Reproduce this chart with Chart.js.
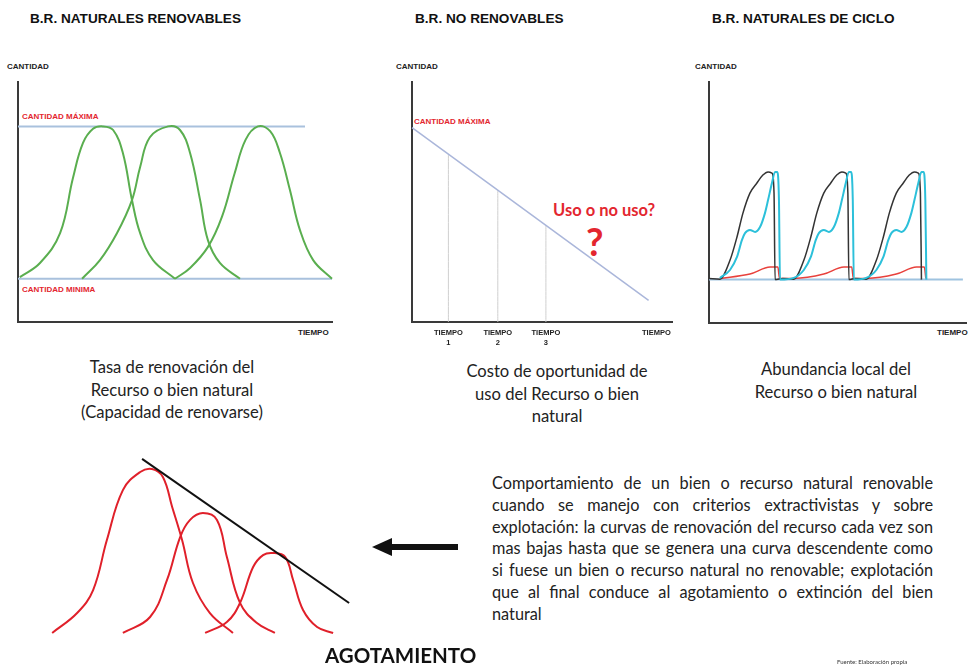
<!DOCTYPE html>
<html>
<head>
<meta charset="utf-8">
<script src="https://cdn.jsdelivr.net/npm/chart.js@4.4.1/dist/chart.umd.min.js"></script>
<style>
  body { margin: 0; background: #fff; }
  #page { position: relative; width: 968px; height: 667px; overflow: hidden; font-family: Lato, sans-serif; color: #222; }
  .box { position: absolute; }
  .t { position: absolute; white-space: nowrap; }
  .title { font: bold 13.6px "Liberation Sans", Arial, sans-serif; color: #111; line-height: 16px; }
  .tiny { font: bold 8px "Liberation Sans", Arial, sans-serif; color: #222; line-height: 10px; }
  .red { color: #e3262f; }
  .cap { font-size: 16.6px; text-align: center; line-height: 22.5px; color: #222; }
  .par { font-size: 14.5px; line-height: 21.8px; color: #222; }
  .par div { white-space: nowrap; text-align: justify; text-align-last: justify; width: 441px; }
  .par div.last { text-align-last: left; }
</style>
</head>
<body>
<div id="page">
  <!-- titulos -->
  <div class="t title" style="left:30px;top:11px">B.R. NATURALES RENOVABLES</div>
  <div class="t title" style="left:415px;top:11px">B.R. NO RENOVABLES</div>
  <div class="t title" style="left:712px;top:11px">B.R. NATURALES DE CICLO</div>

  <!-- etiquetas de ejes -->
  <div class="t tiny" style="left:7px;top:62px">CANTIDAD</div>
  <div class="t tiny" style="left:396px;top:62px">CANTIDAD</div>
  <div class="t tiny" style="left:695px;top:62px">CANTIDAD</div>
  <div class="t tiny" style="left:298px;top:328px">TIEMPO</div>
  <div class="t tiny" style="left:937px;top:328px">TIEMPO</div>
  <div class="t tiny red" style="left:22px;top:112px">CANTIDAD MÁXIMA</div>
  <div class="t tiny red" style="left:22px;top:285px">CANTIDAD MINIMA</div>
  <div class="t tiny red" style="left:414px;top:117px">CANTIDAD MÁXIMA</div>
  <div class="t red" style="left:553px;top:199px;font-weight:bold;font-size:16.5px;line-height:22px">Uso o no uso?</div>
  <div class="t red" style="left:586px;top:219px;font-weight:bold;font-size:38px;line-height:44px">?</div>

  <!-- graficos -->
  <div class="box" style="left:8px;top:72px;width:334px;height:260px"><canvas id="renovables"></canvas></div>
  <div class="box" style="left:402px;top:72px;width:280px;height:278px"><canvas id="noRenovables"></canvas></div>
  <div class="box" style="left:699px;top:72px;width:269px;height:261px"><canvas id="ciclo"></canvas></div>
  <div class="box" style="left:30px;top:440px;width:340px;height:210px"><canvas id="agotamiento"></canvas></div>

  <!-- textos -->
  <div class="t cap" style="left:22px;top:356px;width:300px">Tasa de renovación del<br>Recurso o bien natural<br>(Capacidad de renovarse)</div>
  <div class="t cap" style="left:407px;top:360px;width:300px">Costo de oportunidad de<br>uso del Recurso o bien<br>natural</div>
  <div class="t cap" style="left:686px;top:358px;width:300px">Abundancia local del<br>Recurso o bien natural</div>

  <div class="t par" id="parrafo" style="left:492px;top:472px">
    <div>Comportamiento de un bien o recurso natural renovable</div>
    <div>cuando se manejo con criterios extractivistas y sobre</div>
    <div id="lineaLarga">explotación: la curvas de renovación del recurso cada vez son</div>
    <div>mas bajas hasta que se genera una curva descendente como</div>
    <div>si fuese un bien o recurso natural no renovable; explotación</div>
    <div>que al final conduce al agotamiento o extinción del bien</div>
    <div class="last">natural</div>
  </div>

  <svg class="box" style="left:0;top:0" width="968" height="667">
    <polygon points="372,547 392,538 392,556" fill="#111"/>
    <rect x="390" y="544" width="68" height="6" fill="#111"/>
  </svg>

  <div class="t" style="left:325px;top:643px;font-weight:bold;font-size:20.5px;line-height:24px;color:#111">AGOTAMIENTO</div>
  <div class="t" style="left:837px;top:658px;font-size:6px;line-height:8px;color:#333">Fuente: Elaboración propia</div>
</div>

<script>
// ---------------- Datos ----------------
// B.R. naturales renovables: [tiempo, cantidad]
const renovCurva1 = [[0.6,18.7],[7,24.6],[13.4,37],[17.5,60],[20.7,74.6],[23.9,80.5],[27,81.5],[30.3,80],[33.4,70.4],[36.3,50.8],[38.9,37],[43,25.8],[50,18]];
const renovCurva2 = [[20.4,18],[26.1,25.8],[31.5,37],[36.3,50.8],[38.9,64.6],[42,77],[47.8,81.5],[51.6,80],[54.8,70.4],[58,50.8],[60.5,34],[64.3,24.6],[70.7,18]];
const renovCurva3 = [[50,18],[54.8,22.5],[60.5,31.3],[65,44],[69,62],[72.5,76],[76.4,81.5],[80.3,79.5],[83.4,70.5],[86.6,55],[89.8,38.3],[94,25.8],[100,18]];
const renovMaxima = [[0,81.5],[91.4,81.5]];
const renovMinima = [[0,18],[100,18]];

// B.R. no renovables
const noRenDescenso = [[0,81],[91,9]];
const noRenTiempos = [14, 33, 51.5];
const noRenCantidades = [70, 55, 40.3];
const noRenTickValues = [14, 33, 51.5, 94];
const noRenTickLabels = [["TIEMPO","1"],["TIEMPO","2"],["TIEMPO","3"],"TIEMPO"];

// B.R. naturales de ciclo
const cicloNegro = [[0,18.5],[4.2,18.2],[8.1,26],[10.8,35.7],[13.1,45.6],[15.8,53.9],[18.5,58.1],[20.8,61.4],[22.8,62.7],[24.3,62.2],[25.1,54],[25.5,18],
  [28.5,18.5],[32.7,18.2],[36.6,26],[39.3,35.7],[41.6,45.6],[44.3,53.9],[47,58.1],[49.3,61.4],[51.3,62.7],[52.8,62.2],[53.6,54],[54,18],
  [56.5,18.5],[60.7,18.2],[64.6,26],[67.3,35.7],[69.6,45.6],[72.3,53.9],[75,58.1],[77.3,61.4],[79.3,62.7],[80.8,62.2],[81.6,54],[82,18]];
const cicloCian = [[4.2,18.7],[8.1,22],[10.8,27.4],[12.7,34.4],[13.9,37.3],[15.8,38.6],[17.8,37.8],[19.7,39.8],[21.6,45.6],[22.8,51],[24.3,58.1],[25.5,62.7],[26.3,62.7],[27,51],[27.4,18],
  [32.7,18.7],[36.6,22],[39.3,27.4],[41.2,34.4],[42.4,37.3],[44.3,38.6],[46.3,37.8],[48.2,39.8],[50.1,45.6],[51.3,51],[52.8,58.1],[54,62.7],[54.8,62.7],[55.5,51],[55.9,18],
  [60.7,18.7],[64.6,22],[67.3,27.4],[69.2,34.4],[70.4,37.3],[72.3,38.6],[74.3,37.8],[76.2,39.8],[78.1,45.6],[79.3,51],[80.8,58.1],[82,62.7],[82.8,62.7],[83.5,51],[83.9,18]];
const cicloRojo = [[4.2,18.5],[15.8,20.3],[23.6,23.2],[26.6,23.2],[27.2,18.5],
  [32.7,18.5],[44.3,20.3],[52.1,23.2],[55.1,23.2],[55.7,18.5],
  [60.7,18.5],[72.3,20.3],[80.1,23.2],[83.1,23.2],[83.7,18.5]];
const cicloBase = [[0,18],[98,18]];

// Agotamiento
const agotCurva1 = [[3.8,3.7],[11.6,14.2],[16.6,26.3],[20.9,52.6],[25.9,78.9],[31.3,88.4],[35,90],[38.4,85.8],[41.3,70],[44.4,52.6],[47.8,30],[53.1,14.2],[60.3,3.7]];
const agotCurva2 = [[25.9,3.7],[34.4,12.1],[39.7,31.6],[43.8,54.2],[46.9,63.2],[50.9,66.8],[55.3,63.2],[58.4,43.7],[62.5,19.5],[67.8,8.9],[73.4,3.7]];
const agotCurva3 = [[51.6,3.7],[58.4,9.5],[62.5,19.5],[66.6,38.4],[69.7,44.7],[72.8,45.8],[76.6,43.7],[79.1,31.6],[82.2,15.8],[86.6,6.8],[91.6,3.7]];
const agotTendencia = [[31.9,95.3],[96.6,19.5]];

// ---------------- Utilidades ----------------
function serie(points, color, width, suave) {
  const ds = {
    data: points.map(p => ({ x: p[0], y: p[1] })),
    borderColor: color,
    borderWidth: width,
    pointRadius: 0,
    fill: false,
    clip: false,
  };
  if (suave) ds.tension = 0.4;          // campanas
  else ds.cubicInterpolationMode = "monotone"; // ciclos con caidas verticales
  return ds;
}

function eje(min, max, show, horizontal) {
  return {
    type: "linear",
    min: min,
    max: max,
    display: show,
    grid: { display: false, drawTicks: false },
    border: { display: true, color: "#3a3a3a", width: 2 },
    ticks: { display: false },
    afterFit: s => { if (horizontal) s.height = 0; else s.width = 0; },
  };
}

function crearGrafico(id, datasets, scales, padding) {
  return new Chart(document.getElementById(id), {
    type: "line",
    data: { datasets: datasets },
    options: {
      responsive: true,
      maintainAspectRatio: false,
      animation: false,
      layout: { padding: padding },
      plugins: { legend: { display: false }, tooltip: { enabled: false } },
      scales: scales,
    },
  });
}

// ---------------- Graficos ----------------
const verde = "#5aae4f";
const azul = "#a9c1dd";

crearGrafico("renovables", [
  serie(renovCurva1, verde, 2, true),
  serie(renovCurva2, verde, 2, true),
  serie(renovCurva3, verde, 2, true),
  serie(renovMaxima, azul, 2),
  serie(renovMinima, azul, 2),
], { x: eje(0, 100, true, true), y: eje(0, 100, true, false) }, 10);

const ejeTiempo = eje(0, 100, true, true);
ejeTiempo.ticks = {
  display: true,
  autoSkip: false,
  maxRotation: 0,
  padding: 6,
  color: "#222",
  font: { family: "Liberation Sans", size: 7.5, weight: "bold", lineHeight: 1.3 },
  callback: (v, i) => noRenTickLabels[i],
};
ejeTiempo.afterBuildTicks = s => { s.ticks = noRenTickValues.map(v => ({ value: v })); };
ejeTiempo.afterFit = s => { s.height = 28; };

crearGrafico("noRenovables", [
  serie(noRenDescenso, "#aab6da", 1.5),
  ...noRenTiempos.map((t, i) => serie([[t, 0], [t, noRenCantidades[i]]], "#cfcfcf", 1)),
], { x: ejeTiempo, y: eje(0, 100, true, false) }, { left: 10, right: 10, top: 10, bottom: 0 });

crearGrafico("ciclo", [
  serie(cicloCian, "#2cc0da", 2),
  serie(cicloNegro, "#333", 1.5),
  serie(cicloRojo, "#e8413c", 1.5),
  serie(cicloBase, "#9fc3e0", 2),
], { x: eje(0, 99.2, true, true), y: eje(0, 100, true, false) }, { left: 10, right: 2, top: 10, bottom: 10 });

crearGrafico("agotamiento", [
  serie(agotTendencia, "#111", 2),
  serie(agotCurva1, "#e0202a", 2, true),
  serie(agotCurva2, "#e0202a", 2, true),
  serie(agotCurva3, "#e0202a", 2, true),
], { x: eje(0, 100, false, true), y: eje(0, 100, false, false) }, 10);

// ajustar el tamaño del parrafo para que la linea mas larga llene el ancho
const parrafo = document.getElementById("parrafo");
const medida = document.createElement("span");
medida.style.cssText = "position:absolute;visibility:hidden;white-space:nowrap;font-family:Lato,sans-serif;font-size:14.5px";
medida.textContent = document.getElementById("lineaLarga").textContent;
document.body.appendChild(medida);
parrafo.style.fontSize = (14.5 * 436 / medida.getBoundingClientRect().width).toFixed(2) + "px";
medida.remove();
</script>
</body>
</html>
